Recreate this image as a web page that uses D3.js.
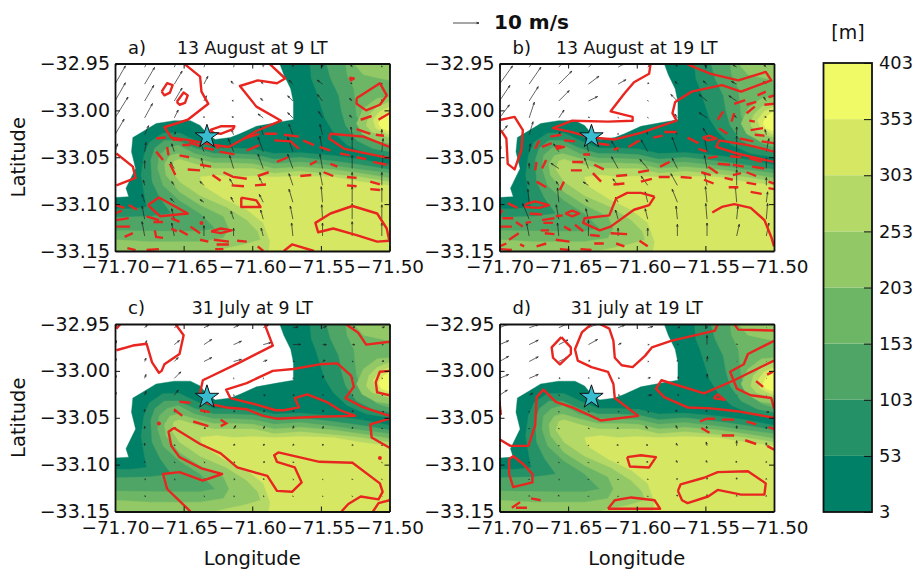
<!DOCTYPE html>
<html>
<head>
<meta charset="utf-8">
<script src="https://cdn.jsdelivr.net/npm/d3@7"></script>
<style>
  html, body { margin: 0; background: #fff; overflow: hidden; }
  text { font-family: "DejaVu Sans", sans-serif; fill: #111; }
</style>
</head>
<body>
<svg id="chart" width="913" height="572"></svg>
<script>
// all outlines below: [thousandths of a degree east of lonMin, thousandths south of latMax]
const lonMin = -71.70, latMax = -32.95
const lonTicks = [-71.70, -71.65, -71.60, -71.55, -71.50]
const latTicks = [-32.95, -33.00, -33.05, -33.10, -33.15]
const barLevels = [3, 53, 103, 153, 203, 253, 303, 353, 403]
const bandColors = ["#008066", "#249266", "#4fa566", "#6db666", "#92c866", "#b4d966", "#d6e764", "#f0fa66"]
const station = [-71.633, -33.028]
const refSpeed = 10

const land = [[120,0],[123,12],[128,27],[130,41],[130,60],[118,63],[103,67],[91,75],[84,79],[73,81],[67,75],[62,66],[55,61],[43,61],[30,64],[21,72],[13,79],[12,94],[15,112],[11,124],[8,133],[10,142],[0,143],[0,200],[200,200],[200,0]]

const east53 = [[142,0],[143,16],[146,27],[149,41],[153,59],[159,73],[169,87],[183,96],[200,100],[200,0]]
const east103 = [[154,0],[157,16],[163,34],[165,51],[168,66],[176,82],[188,91],[200,94],[200,0]]
const east153 = [[168,0],[169,12],[174,27],[175,41],[176,55],[181,73],[191,85],[200,89],[200,0]]
const east203a = [[174,0],[181,12],[200,18],[200,0]]
const east203b = [[200,36],[191,37],[181,48],[176,64],[180,75],[190,83],[200,85]]
const east253 = [[200,41],[191,46],[185,55],[183,66],[187,73],[200,79]]
const east303 = [[200,46],[193,51],[188,60],[190,69],[200,76]]
const east353 = [[200,51],[194,57],[192,64],[194,69],[200,72]]

const south53 = [[200,108],[179,102],[159,98],[135,95],[116,96],[101,91],[86,90],[72,90],[60,83],[47,74],[35,74],[25,84],[21,98],[19,119],[21,137],[23,153],[11,155],[0,155],[0,200],[200,200]]
const south103 = [[200,113],[179,108],[159,104],[135,100],[116,102],[101,97],[86,96],[72,96],[58,90],[46,82],[36,82],[29,90],[26,103],[27,126],[33,144],[41,160],[26,163],[0,164],[0,200],[200,200]]
const south153 = [[200,117],[179,113],[159,109],[135,105],[116,107],[101,102],[86,101],[72,101],[58,96],[46,87],[38,90],[32,98],[31,112],[35,130],[47,146],[62,160],[73,176],[62,179],[38,179],[0,178],[0,200],[200,200]]
const south203 = [[200,122],[179,117],[159,113],[135,110],[116,112],[101,107],[86,106],[72,106],[58,101],[46,96],[40,98],[36,107],[37,119],[47,137],[62,151],[79,163],[83,176],[79,186],[62,190],[26,190],[0,188],[0,200],[200,200]]
const south253 = [[200,126],[179,121],[159,118],[135,115],[116,117],[101,112],[86,112],[72,112],[58,107],[47,102],[43,104],[41,113],[47,126],[62,141],[81,153],[96,167],[104,179],[106,188],[94,193],[72,200],[200,200]]
const south303 = [[200,130],[179,126],[159,121],[135,120],[116,121],[101,120],[86,121],[74,119],[62,121],[64,130],[79,144],[96,156],[108,170],[113,190],[112,200],[200,200]]

const terrain = [
  [land], [east53, south53], [east103, south103], [east153, south153],
  [east203a, east203b, south203], [east253, south253], [east303, south303], [east353]
]

const solidA = [
  [[1,96],[13,110],[15,122],[1,130]],
  [[113,1],[124,16],[118,21],[104,18],[91,24],[103,46],[121,61],[103,72],[94,80],[83,89],[72,87],[55,82],[41,79],[36,68],[53,60],[68,43],[63,30],[62,14],[51,1]],
  [[34,30],[38,21],[42,23],[40,31],[36,34],[34,30]],
  [[45,41],[50,31],[53,34],[51,42],[47,44],[45,41]],
  [[69,71],[77,67],[87,67],[86,70],[77,75],[72,74],[69,71]],
  [[171,15],[174,16],[172,18],[171,15]],
  [[176,37],[193,21],[198,34],[193,44],[183,50],[176,43],[176,37]],
  [[200,89],[181,78],[157,75],[156,80],[167,91],[200,101]],
  [[92,143],[103,146],[106,153],[92,153],[92,143]],
  [[24,151],[32,143],[53,160],[33,163],[24,151]],
  [[200,190],[198,176],[191,160],[173,152],[157,160],[146,170],[148,180],[159,176],[176,183],[191,190],[200,189]],
  [[123,200],[129,193],[145,200]],
  [[70,179],[77,176],[85,178],[77,181],[70,179]]
]
const dashedA = [
  [[30,80],[37,79]],[[42,81],[49,82]],[[54,84],[62,88]],[[65,90],[72,92]],[[76,94],[87,97]],
  [[94,80],[105,75]],[[109,75],[118,75]],[[123,76],[134,78]],[[137,82],[145,87]],[[149,89],[157,93]],[[164,96],[171,98]],[[176,100],[183,102]],[[188,105],[198,108]],
  [[96,93],[105,87]],[[116,82],[128,83],[134,91]],[[30,94],[35,103]],[[38,89],[39,98]],
  [[47,98],[54,100]],[[62,108],[70,110]],[[40,107],[44,119]],[[53,113],[62,114]],[[49,87],[55,87]],
  [[71,119],[77,125]],[[79,116],[86,121],[96,123]],[[85,130],[94,131]],[[102,130],[110,129]],[[104,120],[112,116]],[[118,105],[126,100]],
  [[135,120],[143,119]],[[152,116],[159,120]],[[169,121],[176,122]],[[186,126],[193,129]],[[169,130],[176,131]],[[186,134],[193,135]],
  [[142,108],[147,104]],[[157,107],[162,110]],
  [[0,151],[7,154]],[[10,151],[16,156]],[[0,160],[5,157]],[[1,167],[10,165]],[[1,174],[11,174]],[[23,163],[32,167]],[[28,169],[35,169]],[[41,165],[47,169]],[[55,174],[62,181]],
  [[7,185],[13,181]],[[29,178],[30,185],[35,186]],[[41,176],[45,179]],[[47,178],[53,183]],[[62,188],[68,190]],[[72,188],[83,190]],[[89,189],[96,190]],[[74,193],[83,193]],[[73,198],[79,198]],[[9,197],[15,199]],[[23,199],[32,198]],[[104,195],[108,200]],
  [[179,60],[187,56]],[[176,70],[186,75]],[[190,76],[196,77]],[[192,60],[200,53]]
]
const dotsA = [[63,170],[75,89]]

const solidB = [
  [[110,1],[109,11],[98,20],[91,32],[81,51],[97,57],[97,61],[79,62],[53,61],[39,69],[52,73],[67,79],[84,81],[103,74],[129,61],[126,53],[128,41],[140,30],[162,23],[176,30],[198,18],[194,9],[174,18],[154,11],[137,1]],
  [[1,60],[11,57],[17,71],[16,92],[11,113],[6,107],[5,80],[1,71]],
  [[113,142],[103,138],[93,138],[85,144],[80,162],[62,165],[61,170],[73,178],[81,174],[98,156],[109,151],[113,142]],
  [[155,159],[162,153],[171,150],[183,154],[193,167],[198,185],[200,195]],
  [[200,94],[181,87],[160,82],[158,89],[173,96],[200,105]],
  [[19,150],[26,147],[36,151],[29,154],[19,153],[19,150]],
  [[48,160],[53,157],[58,160],[53,163],[48,160]],
  [[148,79],[153,77],[158,80],[152,82],[148,79]],
  [[41,88],[47,89],[42,91],[41,88]]
]
const dashedB = [
  [[37,78],[45,76]],[[47,82],[55,83]],[[26,91],[29,82]],[[31,89],[38,85]],[[26,114],[27,105]],[[31,112],[34,103]],[[27,126],[34,132]],[[44,135],[47,126]],
  [[53,105],[61,105]],[[52,114],[60,114]],[[69,108],[76,113]],[[68,117],[74,126]],[[70,85],[80,87]],[[83,92],[87,90]],[[61,97],[66,97]],
  [[94,89],[102,82]],[[112,79],[119,77]],[[120,73],[129,73]],[[137,79],[145,85]],[[145,91],[151,94]],
  [[85,120],[93,119]],[[101,116],[109,114]],[[117,110],[124,105]],[[83,129],[91,128]],[[103,126],[111,123]],[[116,121],[124,121]],[[132,121],[140,122]],[[147,116],[154,119]],[[149,124],[156,128]],[[152,110],[159,117]],[[164,122],[170,124]],[[167,132],[174,132]],[[180,116],[187,120]],[[180,127],[187,129]],[[183,137],[191,139]],[[170,119],[176,117]],[[196,126],[200,128]],[[196,133],[200,134]],
  [[152,101],[159,99]],[[168,99],[176,100]],[[159,107],[168,108]],[[170,108],[178,110]],[[182,101],[191,105]],[[184,110],[193,112]],
  [[159,60],[163,51]],[[169,62],[171,53]],[[171,43],[179,39]],[[180,44],[187,41]],[[180,53],[186,46]],[[188,34],[194,30]],[[196,36],[200,34]],[[193,44],[200,43]],[[160,69],[166,75]],[[175,80],[185,83]],[[183,71],[192,69]],[[186,76],[193,77]],[[182,61],[186,62]],[[191,83],[200,85]],
  [[6,149],[13,154]],[[0,162],[2,156]],[[2,165],[10,165]],[[0,174],[9,174]],[[12,169],[17,174]],[[19,170],[23,169]],[[22,160],[31,161]],[[31,167],[40,165]],[[32,170],[39,170]],[[7,188],[14,181]],[[30,178],[36,178]],[[33,181],[40,182]],[[47,174],[52,178]],[[55,172],[61,179]],[[41,163],[46,162]],
  [[0,195],[5,192]],[[15,193],[18,195]],[[27,195],[34,192]],[[41,188],[51,190]],[[66,183],[73,184]],[[81,181],[93,182]],[[69,192],[76,192]],[[85,192],[91,195]],[[102,189],[108,195]],[[1,198],[9,199]],[[59,198],[67,199]],[[44,198],[51,199]]
]
const dotsB = []

const solidC = [
  [[1,28],[13,23],[23,21],[27,41],[32,52],[34,50],[36,43],[47,32],[50,12],[44,0]],
  [[1,5],[4,0]],
  [[109,0],[115,23],[91,41],[64,60],[62,73],[68,85],[81,89],[96,91],[108,98],[118,101],[147,99],[175,98],[164,92],[154,83],[140,75],[131,79],[134,89],[123,92],[117,92],[103,86],[84,79],[81,70],[96,63],[115,50],[130,48],[149,43],[162,42],[172,55],[174,67],[168,79],[181,89],[200,98]],
  [[168,0],[177,9],[183,22],[200,19]],
  [[200,50],[193,51],[190,62],[191,73],[200,76]],
  [[200,101],[186,107],[187,121],[200,132]],
  [[55,200],[50,193],[38,176],[35,160],[47,158],[64,167],[78,160],[63,154],[47,142],[41,130],[39,115],[43,111],[62,128],[77,138],[89,153],[111,162],[118,178],[129,179],[136,169],[131,153],[118,147],[116,140],[119,137],[149,147],[173,148],[193,170],[195,179],[192,187],[179,184],[170,192],[165,200]],
  [[188,200],[192,191],[200,188]]
]
const dashedC = [[[47,83],[55,84]],[[62,92],[69,94]],[[43,91],[49,98]],[[57,104],[68,109]],[[77,102],[81,106],[77,109]]]
const dotsC = [[32,106],[193,143]]

const solidD = [
  [[0,83],[1,97]],
  [[45,14],[38,25],[39,36],[44,43],[52,32],[52,25],[45,14]],
  [[67,0],[60,9],[55,27],[57,39],[67,46],[79,51],[83,64],[84,79],[101,98],[74,103],[53,89],[41,83],[32,70],[27,78],[26,108],[21,130],[8,130],[0,123]],
  [[73,0],[80,5],[83,18],[84,36],[89,44],[97,46],[106,34],[111,25],[125,18],[157,7],[159,0]],
  [[200,100],[173,93],[154,90],[137,89],[120,78],[114,69],[118,60],[149,74],[171,60],[200,39]],
  [[200,18],[181,32],[178,43],[168,51],[173,69],[183,76],[198,79],[200,90]],
  [[171,0],[174,6],[200,7]],
  [[156,79],[159,75],[164,81],[156,79]],
  [[7,144],[10,141],[17,149],[24,160],[24,169],[10,174],[7,160],[7,144]],
  [[93,142],[103,140],[114,142],[109,153],[95,152],[93,142]],
  [[130,178],[132,171],[149,164],[159,158],[181,157],[194,170],[193,182],[176,182],[159,177],[152,184],[137,191],[133,188],[130,178]],
  [[79,197],[84,188],[96,185],[113,188],[117,197],[79,197]]
]
const dashedD = [
  [[146,104],[151,101],[157,101]],[[162,102],[171,102]],[[180,104],[187,107]],[[196,110],[200,112]],[[147,111],[153,116]],[[162,119],[171,119]],[[179,124],[187,128]],[[195,130],[200,134]],
  [[187,61],[192,67]],[[195,54],[199,51]],[[23,186],[30,188]],[[9,196],[15,190]],[[12,196],[20,196]]
]
const dotsD = []

// quiver grid and winds [u, v] in m/s, rows north to south
const windEast = [0, 21.6, 43.2, 64.8, 86.4, 108, 129.6, 151.2, 172.8, 194.4]
const windSouth = [4, 22, 40, 58, 76, 94, 112, 130, 148, 166, 184]

const windA = [
  [[5,8],[3,6],[2,5],[1,3],[0.5,2],[0,1.5],[0,1],[0,1],[-0.5,1],[0,0.5]],
  [[4,7],[3.8,6.4],[3,5],[1.5,3],[-1,1.2],[-0.8,1],[-1.5,1.5],[-2,1.5],[-0.5,0.5],[0,0.3]],
  [[4,7],[3.5,6],[3,5],[1,2],[-0.5,0.2],[-1,1],[-2,2],[-2,2.5],[-1,1],[0,0.5]],
  [[5,8],[3,5.5],[1.5,3],[0,0.5],[-0.5,0.5],[-2,1.5],[-2,2],[-1.5,2.5],[-1,1],[0,0.3]],
  [[3.5,6],[1.5,3.5],[0.5,1],[0,1],[-0.8,2],[-1,3],[-1.5,4],[-1,4],[-0.5,3],[0,2]],
  [[1,3],[0.5,3.5],[-1,3],[-1.5,4],[-2,5],[-2,5.5],[-2,5.5],[-1,6],[0,5.5],[0.5,5]],
  [[0,2],[0,3],[-1.5,2.5],[-1,4],[-1.5,5],[-2,5.5],[-2,5.5],[-1,5.5],[0,5],[0.5,5]],
  [[0,2],[-0.5,2],[-1,1.5],[-1.5,1.5],[-1.5,2.5],[-1.5,3],[-1.5,4.5],[-1,5],[0,5],[0,5]],
  [[-0.5,3],[-1,3],[-1.5,1.5],[-1.5,1],[-1,2],[-1.5,3],[-1.5,5],[-0.5,6],[0,6],[0,5.5]],
  [[-1,5],[-1,5],[-1,4],[0,1],[-1,3],[-1,3.5],[-1,5],[-0.3,5.5],[0,6],[0,5.5]],
  [[-1,4],[-1,5.5],[-1,5],[0,4],[0,3],[-0.8,3],[-0.5,5],[0,5],[0,5.5],[0,5]]
]
const windB = [
  [[5,8],[4,6],[4,5],[3,3],[2.5,1.5],[1,1],[-0.5,1],[-1,1],[-1.5,1],[-1,1]],
  [[5,7],[4.5,6.5],[5,5],[4,3],[3,1.7],[0.3,0.5],[-0.8,1],[-1.5,1.2],[-2,1],[-1,1]],
  [[4,6],[3.5,5.5],[4,4],[3.5,1.7],[0.5,0.3],[0.1,0.1],[-2.5,2.5],[-3,2.5],[-3,2],[-1,1.5]],
  [[3.8,5],[2,6],[2,3],[0.3,0.3],[0.1,0.1],[0.1,0.1],[-1,1.5],[-3,2],[-1,1],[-0.5,0.5]],
  [[3,3.5],[1.5,5],[0.5,1],[0,0.5],[0,0.5],[-0.5,1.5],[-1,1.5],[-1.5,2.5],[0,3],[-0.5,2]],
  [[0.5,2],[0.5,3],[-2,3],[-1,5.5],[-2.5,4],[-2.5,4.5],[-2,5.5],[-1,5.5],[0,6],[1,5]],
  [[-0.2,2],[0,2],[-3,2],[-1.5,4],[-2.5,4.5],[-3,3.5],[-2,4],[-1,5],[0,6],[0,4]],
  [[0,1],[-0.5,1.5],[-1,1.5],[-2,1.3],[-2,2.5],[-2.5,3.5],[-2.5,4.5],[-1,5],[0,6],[0,3]],
  [[-0.5,3],[-0.5,5],[-0.5,5.5],[-1,1],[-1,2],[-1,4],[-2,5],[-0.6,6],[-0.5,6],[0.5,4]],
  [[-1,4],[-2.5,6],[-1,5.5],[-1,4],[-1,3.5],[-1,4],[-0.5,5],[-0.5,6],[0.5,5],[0.5,6]],
  [[-2,3],[-1,5],[-0.5,5],[0,6],[0,3],[0,3],[0,4.5],[0,5],[1,4.5],[1,5]]
]
const windC = [
  [[0.5,1],[1,1],[1.5,1],[2,1],[2,1],[2,1],[2,0.3],[1.5,0.5],[1,0.3],[1,0.3]],
  [[0.6,1.5],[0.8,1.5],[2,1.6],[3,2],[3,1.3],[3,0.8],[3,0.1],[1.5,0],[1,0],[0.5,0]],
  [[0.5,1],[0.5,1.3],[1.5,1.5],[3,1.5],[3,0.8],[1.5,0.5],[0.5,0],[1,0.5],[0.3,0],[0.8,0.2]],
  [[0.5,1],[0.5,1.5],[2.5,2.5],[0,0],[0.1,0],[0.1,0],[0.1,0],[0.3,1],[0.3,0.2],[0.2,0]],
  [[0.5,1],[0.5,1.5],[1.5,2],[0.5,0.5],[0.2,0.1],[0.8,0],[0.5,0.1],[0.2,0.2],[0.3,0.1],[0.3,0]],
  [[0,0.5],[0,1],[0.3,0.3],[0.3,0.1],[0.4,0.5],[0.5,0.6],[0.3,0.7],[0.3,0.7],[0.3,0.5],[0.8,0.1]],
  [[0,0.5],[0,1],[0.5,0.5],[0.5,0.5],[0.8,1.3],[0.5,1],[0.3,1.2],[0.3,1],[0.2,0.7],[0.2,0.3]],
  [[0,0.5],[0,1],[0.2,0.4],[0.2,0.3],[0.4,0.7],[0.4,0.7],[0.3,0.7],[0.2,0.7],[0.2,0.5],[0.1,0.3]],
  [[0.2,0.1],[0,0.5],[0.2,0.2],[0.3,0.2],[0.5,0.2],[0.5,0.4],[0.3,0.3],[0.2,0.3],[0.1,0.2],[0.1,0.1]],
  [[0.1,0.1],[0.3,0.2],[0.3,0.1],[0.5,0.2],[0.5,0.2],[0.3,0.3],[0.2,0.1],[0.1,0.1],[0.1,0.2],[0.1,0.1]],
  [[0,0],[0.3,0.2],[0.2,0.1],[0.2,0.1],[0.3,0.1],[0.3,0.1],[0.1,0.1],[0.1,0.1],[0.1,0.1],[0,0]]
]
const windD = [
  [[3.5,1.5],[3.5,1.2],[3.5,1.6],[3.5,1.5],[2.5,1],[2,0.5],[1,0.2],[0,0.5],[0.2,0],[0,0]],
  [[3.5,1.5],[3.5,1.7],[3.5,1.8],[3.5,2],[1.2,0.5],[0.5,0],[0.2,0.2],[0,3.5],[0.2,0.2],[0,0]],
  [[3.5,2],[3.5,1.8],[3.5,1.7],[0.5,0.5],[0.3,0],[0.3,0],[0,0.5],[0.2,2],[0,0],[0,0]],
  [[3.5,1.5],[3.5,1.5],[0.5,0.1],[0.2,0.2],[0.5,0.1],[1,0.3],[0.5,0.5],[0.1,1.7],[0,0],[0,0]],
  [[3,2],[1.5,0.8],[0.2,0.1],[0.5,0.1],[0.5,0.1],[1.5,0.1],[0.5,0.2],[0,0],[0,0],[0,0]],
  [[0.5,0.5],[0,0.2],[0,0.2],[0.2,0.3],[0.3,0.3],[0.3,0.2],[-0.6,0.8],[-0.3,0.8],[0,0.5],[1,0.1]],
  [[0.3,0.3],[0,0.2],[0,0.2],[0.2,0.3],[-0.2,0.5],[-0.8,1],[-0.5,1.3],[-0.2,1],[0,1.2],[0,0.8]],
  [[0,0.1],[0,0.1],[0,0.1],[0,0.2],[-0.3,0.5],[-0.4,0.5],[-0.4,1],[-0.3,1.5],[0,2],[0,1.2]],
  [[0,0.1],[0,0.1],[0,0.1],[0,0.1],[-0.1,0.2],[-0.3,0.5],[-0.4,0.8],[-0.3,0.8],[-0.2,0.6],[0,0.5]],
  [[0,0],[0,0.1],[0.2,0.1],[0,0.1],[0,0.1],[0,0.2],[-0.2,0.4],[0,0.8],[0,0.7],[0,0.4]],
  [[0,0],[0.1,0.3],[-0.1,0.5],[0,0.1],[0,0.1],[0,0.1],[-0.1,0.6],[0,0.7],[0,0.4],[0,0.3]]
]

const panels = [
  { label: "a)", title: "13 August at 9 LT", left: 115, top: 63.5, solid: solidA, dashed: dashedA, dots: dotsA, wind: windA },
  { label: "b)", title: "13 August at 19 LT", left: 499.5, top: 63.5, solid: solidB, dashed: dashedB, dots: dotsB, wind: windB },
  { label: "c)", title: "31 July at 9 LT", left: 115, top: 324, solid: solidC, dashed: dashedC, dots: dotsC, wind: windC },
  { label: "d)", title: "31 july at 19 LT", left: 499.5, top: 324, solid: solidD, dashed: dashedD, dots: dotsD, wind: windD }
]

const panelW = 274.5, panelH = 187.5
const svg = d3.select("#chart")
const lon = e => lonMin + e / 1000
const lat = s => latMax - s / 1000

const x = d3.scaleLinear().domain([-71.70, -71.50]).range([0, panelW])
const y = d3.scaleLinear().domain([-33.15, -32.95]).range([panelH, 0])
const speed = d3.scaleLinear().domain([0, refSpeed]).range([0, 26])
const bandColor = d3.scaleOrdinal().domain(barLevels.slice(0, -1)).range(bandColors)
const trace = d3.line().x(d => x(lon(d[0]))).y(d => y(lat(d[1])))

function arrowPath(x0, y0, dx, dy) {
  const len = Math.hypot(dx, dy)
  if (len < 0.01) return `M${x0},${y0}h0.6`
  const ux = dx / len, uy = dy / len, h = Math.min(2.5, len * 0.6)
  const tx = x0 + dx, ty = y0 + dy
  const bx = tx - ux * h, by = ty - uy * h
  return `M${x0},${y0}L${tx},${ty}M${bx - uy * 0.8},${by + ux * 0.8}L${tx},${ty}L${bx + uy * 0.8},${by - ux * 0.8}`
}

panels.forEach((p, i) => {
  const g = svg.append("g").attr("transform", `translate(${p.left},${p.top})`)
  const clipId = `clip-${i}`
  g.append("clipPath").attr("id", clipId)
    .append("rect").attr("width", panelW).attr("height", panelH)

  const plot = g.append("g").attr("clip-path", `url(#${clipId})`)

  // filled terrain, lowest band first
  terrain.forEach((rings, k) => {
    plot.selectAll(null).data(rings).join("path")
      .attr("d", d => trace(d) + "Z")
      .attr("fill", bandColor(barLevels[k]))
      .attr("stroke", bandColor(barLevels[k]))
      .attr("stroke-width", 0.4)
  })

  // winds
  const cells = []
  p.wind.forEach((row, r) => row.forEach((w, c) => cells.push({ c, r, u: w[0], v: w[1] })))
  plot.selectAll(null).data(cells).join("path")
    .attr("d", d => arrowPath(x(lon(windEast[d.c])), y(lat(windSouth[d.r])), speed(d.u), -speed(d.v)))
    .attr("fill", "none")
    .attr("stroke", "#222")
    .attr("stroke-width", 0.7)

  // red contours
  const red = "#e8261f"
  plot.selectAll(null).data(p.solid).join("path")
    .attr("d", trace).attr("fill", "none").attr("stroke", red)
    .attr("stroke-width", 2.4).attr("stroke-linejoin", "round")
  plot.selectAll(null).data(p.dashed).join("path")
    .attr("d", trace).attr("fill", "none").attr("stroke", red)
    .attr("stroke-width", 2.4)
  plot.selectAll(null).data(p.dots).join("circle")
    .attr("cx", d => x(lon(d[0]))).attr("cy", d => y(lat(d[1])))
    .attr("r", 2).attr("fill", red)

  plot.append("path")
    .attr("d", d3.symbol(d3.symbolStar, 170)())
    .attr("transform", `translate(${x(station[0])},${y(station[1])})`)
    .attr("fill", "#38bcd0").attr("stroke", "#111").attr("stroke-width", 1)

  // axes, ticks pointing inwards on all four sides
  const fmt = d3.format(".2f")
  const axes = [
    [d3.axisBottom(x).tickValues(lonTicks).tickFormat(fmt).tickSizeInner(-5).tickSizeOuter(0).tickPadding(9), 0, panelH, 18.4],
    [d3.axisTop(x).tickValues(lonTicks).tickFormat("").tickSizeInner(-5).tickSizeOuter(0), 0, 0, 18.4],
    [d3.axisLeft(y).tickValues(latTicks).tickFormat(fmt).tickSizeInner(-5).tickSizeOuter(0).tickPadding(5), 0, 0, 19],
    [d3.axisRight(y).tickValues(latTicks).tickFormat("").tickSizeInner(-5).tickSizeOuter(0), panelW, 0, 19]
  ]
  axes.forEach(([ax, tx, ty, size]) => {
    const a = g.append("g").attr("transform", `translate(${tx},${ty})`).call(ax)
    a.selectAll("text").attr("font-size", size).attr("font-family", "DejaVu Sans").attr("fill", "#111")
    a.select(".domain").attr("stroke", "#111").attr("stroke-width", 1.8)
    a.selectAll(".tick line").attr("stroke", "#111").attr("stroke-width", 1)
  })

  g.append("text").attr("x", 13).attr("y", -10).attr("font-size", 18).text(p.label)
  g.append("text").attr("x", panelW / 2).attr("y", -10).attr("text-anchor", "middle")
    .attr("font-size", 17.3).text(p.title)

  if (i % 2 === 0) {
    g.append("text").attr("transform", `translate(-90,${panelH / 2}) rotate(-90)`)
      .attr("text-anchor", "middle").attr("font-size", 19.5).text("Latitude")
  }
  if (i >= 2) {
    g.append("text").attr("x", panelW / 2).attr("y", panelH + 53)
      .attr("text-anchor", "middle").attr("font-size", 19.5).text("Longitude")
  }
})

// colour bar
const barLeft = 823.5, barW = 48.5
const barY = d3.scaleLinear().domain([3, 403]).range([512, 63])
const bar = svg.append("g")
bar.selectAll(null).data(bandColors).join("rect")
  .attr("x", barLeft).attr("width", barW)
  .attr("y", (d, i) => barY(barLevels[i + 1]))
  .attr("height", (d, i) => barY(barLevels[i]) - barY(barLevels[i + 1]))
  .attr("fill", d => d)
bar.append("rect").attr("x", barLeft).attr("y", barY(403)).attr("width", barW)
  .attr("height", barY(3) - barY(403)).attr("fill", "none").attr("stroke", "#111").attr("stroke-width", 1.8)
const barAxis = bar.append("g").attr("transform", `translate(${barLeft + barW},0)`)
  .call(d3.axisRight(barY).tickValues(barLevels).tickFormat(d3.format("d")).tickSizeInner(-8).tickSizeOuter(0).tickPadding(7))
barAxis.select(".domain").remove()
barAxis.selectAll("text").attr("font-size", 17.8).attr("font-family", "DejaVu Sans").attr("fill", "#111")
barAxis.selectAll(".tick line").attr("stroke", "#111")
svg.append("text").attr("x", 848).attr("y", 39).attr("text-anchor", "middle").attr("font-size", 19).text("[m]")

// quiver key
svg.append("path")
  .attr("d", arrowPath(453, 23, speed(refSpeed), 0))
  .attr("fill", "none").attr("stroke", "#222").attr("stroke-width", 0.8)
svg.append("text").attr("x", 494).attr("y", 29).attr("font-size", 20).attr("font-weight", "bold").text("10 m/s")
</script>
</body>
</html>
